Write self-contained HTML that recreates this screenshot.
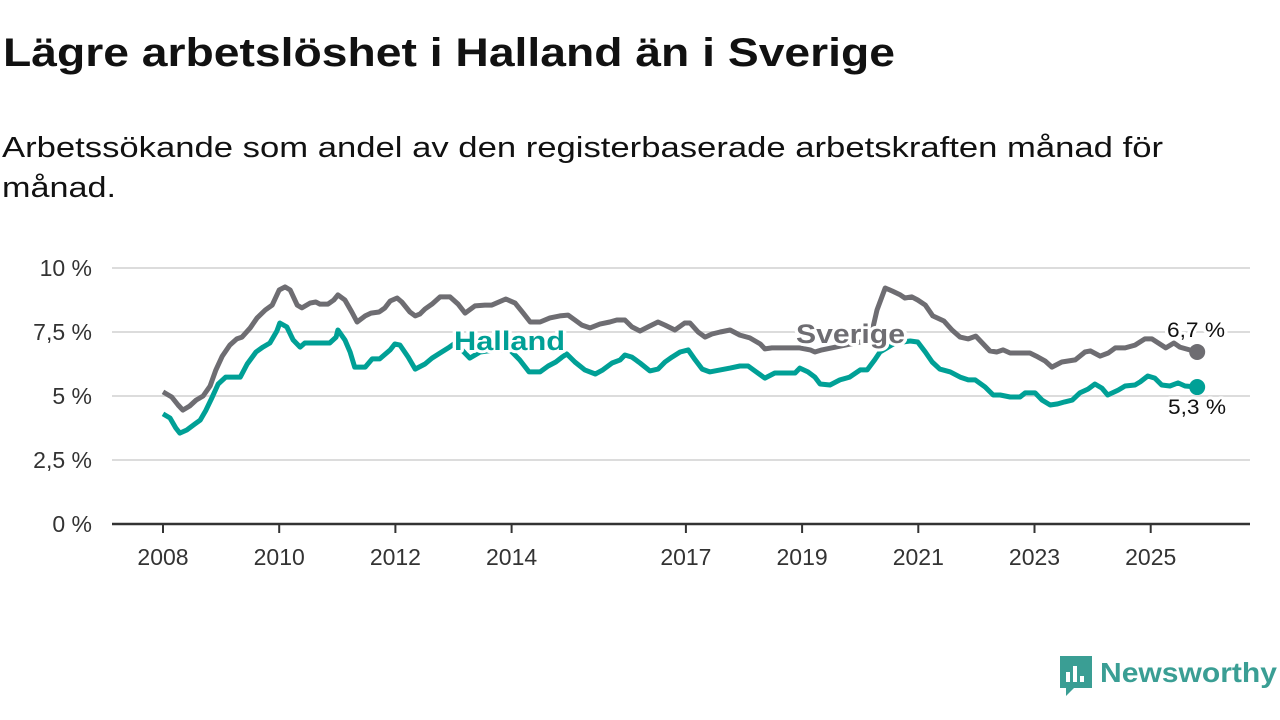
<!DOCTYPE html>
<html><head><meta charset="utf-8"><style>
body{margin:0;background:#fff;width:1280px;height:720px;overflow:hidden;font-family:"Liberation Sans","DejaVu Sans",sans-serif}
</style></head><body>
<svg width="1280" height="720" style="position:absolute;left:0;top:0">
<text x="3" y="66" font-size="40" font-weight="bold" fill="#111" textLength="892" lengthAdjust="spacingAndGlyphs">Lägre arbetslöshet i Halland än i Sverige</text>
<text x="2" y="157" font-size="29" fill="#111" textLength="1161" lengthAdjust="spacingAndGlyphs">Arbetssökande som andel av den registerbaserade arbetskraften månad för</text>
<text x="2" y="197" font-size="29" fill="#111" textLength="114" lengthAdjust="spacingAndGlyphs">månad.</text>
<g id="grid"></g><g id="xaxis"></g><g id="lines"></g><g id="labels"></g>
<g>
<path d="M1060 656 h32 v32 h-18 l-8 8 v-8 h-6 z" fill="#3a9e94"/>
<rect x="1066" y="672" width="4" height="10" fill="#fff"/><rect x="1073" y="666" width="4" height="16" fill="#fff"/><rect x="1080" y="676" width="4" height="6" fill="#fff"/>
<text x="1100" y="682" font-size="28" font-weight="bold" fill="#3a9e94" textLength="177" lengthAdjust="spacingAndGlyphs">Newsworthy</text>
</g>
</svg>
<script>
const yTicks=[0,2.5,5,7.5,10];
const yTickLabels=["0 %","2,5 %","5 %","7,5 %","10 %"];
const xTicks=[2008,2010,2012,2014,2017,2019,2021,2023,2025];
const sverigeT=[0,.15,.26,.34,.46,.57,.69,.81,.91,1.02,1.15,1.27,1.36,1.50,1.62,1.76,1.88,2.0,2.10,2.19,2.31,2.39,2.53,2.63,2.70,2.84,2.94,3.01,3.13,3.25,3.34,3.48,3.58,3.72,3.82,3.91,4.03,4.11,4.25,4.34,4.42,4.51,4.63,4.77,4.94,5.08,5.20,5.37,5.54,5.66,5.90,6.06,6.20,6.32,6.49,6.66,6.83,6.97,7.09,7.21,7.35,7.52,7.69,7.81,7.95,8.07,8.21,8.35,8.52,8.64,8.81,8.98,9.07,9.21,9.33,9.45,9.59,9.76,9.93,10.10,10.28,10.36,10.48,10.79,10.96,11.14,11.22,11.34,12.17,12.29,12.43,12.55,12.69,12.77,12.89,12.99,13.12,13.25,13.44,13.58,13.72,13.86,13.99,14.23,14.35,14.46,14.58,14.92,15.03,15.18,15.30,15.47,15.70,15.87,15.96,16.13,16.27,16.39,16.56,16.73,16.90,17.02,17.13,17.26,17.40,17.50,17.80];
const sverigeV=[5.16,4.96,4.65,4.45,4.61,4.84,5.0,5.39,6.02,6.56,6.99,7.23,7.30,7.66,8.05,8.36,8.55,9.14,9.26,9.14,8.55,8.44,8.63,8.67,8.59,8.59,8.75,8.95,8.75,8.28,7.89,8.13,8.24,8.28,8.44,8.71,8.83,8.67,8.28,8.13,8.2,8.4,8.59,8.87,8.87,8.59,8.24,8.52,8.55,8.55,8.79,8.63,8.24,7.89,7.89,8.05,8.13,8.16,7.97,7.77,7.66,7.81,7.89,7.97,7.97,7.7,7.54,7.7,7.89,7.77,7.58,7.85,7.85,7.5,7.3,7.42,7.5,7.58,7.38,7.27,7.03,6.84,6.88,6.88,6.88,6.8,6.72,6.8,7.19,8.36,9.22,9.1,8.95,8.83,8.87,8.75,8.55,8.13,7.93,7.58,7.3,7.23,7.34,6.76,6.72,6.8,6.68,6.68,6.56,6.37,6.13,6.33,6.41,6.72,6.76,6.56,6.68,6.88,6.88,6.99,7.23,7.23,7.07,6.88,7.07,6.91,6.72];
const hallandT=[0,.12,.22,.29,.41,.55,.64,.74,.84,.95,1.08,1.33,1.45,1.60,1.72,1.84,1.96,2.01,2.13,2.24,2.36,2.44,2.87,2.98,3.01,3.13,3.22,3.30,3.48,3.60,3.73,3.91,3.99,4.08,4.22,4.34,4.51,4.63,4.77,4.91,5.03,5.28,5.46,5.71,5.97,6.14,6.30,6.49,6.63,6.76,6.87,6.95,7.09,7.26,7.44,7.57,7.73,7.87,7.95,8.07,8.21,8.38,8.52,8.64,8.76,8.90,9.04,9.16,9.28,9.41,9.59,9.76,9.93,10.07,10.21,10.36,10.53,10.88,10.96,11.10,11.22,11.31,11.48,11.65,11.82,12.0,12.12,12.25,12.34,12.60,12.86,12.99,13.12,13.24,13.37,13.55,13.72,13.86,13.98,14.15,14.29,14.41,14.58,14.75,14.84,15.01,15.13,15.27,15.40,15.52,15.65,15.78,15.92,16.04,16.16,16.26,16.44,16.56,16.73,16.82,16.95,17.07,17.19,17.33,17.47,17.59,17.80];
const hallandV=[4.30,4.14,3.75,3.55,3.67,3.91,4.06,4.45,4.92,5.47,5.74,5.74,6.25,6.72,6.91,7.07,7.54,7.85,7.7,7.19,6.91,7.07,7.07,7.3,7.58,7.19,6.72,6.13,6.13,6.45,6.45,6.8,7.03,6.99,6.52,6.05,6.25,6.48,6.68,6.88,7.07,6.48,6.72,6.8,6.8,6.41,5.94,5.94,6.17,6.33,6.52,6.64,6.33,6.02,5.86,6.02,6.29,6.41,6.6,6.52,6.29,5.98,6.05,6.33,6.52,6.72,6.8,6.41,6.05,5.94,6.02,6.09,6.17,6.17,5.94,5.70,5.90,5.90,6.09,5.94,5.74,5.47,5.43,5.63,5.74,6.02,6.02,6.41,6.72,7.07,7.15,7.11,6.72,6.33,6.05,5.94,5.74,5.63,5.63,5.35,5.04,5.04,4.96,4.96,5.12,5.12,4.84,4.65,4.69,4.77,4.84,5.12,5.27,5.47,5.31,5.04,5.23,5.39,5.43,5.55,5.78,5.70,5.43,5.39,5.51,5.39,5.35];
const NS="http://www.w3.org/2000/svg";
const X=y=>163+(y-2008)*58.1, Y=v=>524-v*25.6;
function mk(t,a,p){const e=document.createElementNS(NS,t);for(const k in a)e.setAttribute(k,a[k]);p.appendChild(e);return e;}
const g=document.getElementById('grid');
yTicks.forEach((v,i)=>{
 if(v>0){const l=mk('line',{x1:112,x2:1250,y1:Y(v),y2:Y(v),stroke:'#dcdcdc','stroke-width':2},g);
 
 }
 const t=mk('text',{x:92,y:Y(v)+8,'text-anchor':'end','font-size':23,fill:'#333'},g);t.textContent=yTickLabels[i];
 
 
});
const xa=document.getElementById('xaxis');
const ax=mk('line',{x1:112,x2:1250,y1:524,y2:524,stroke:'#333','stroke-width':2.5},xa);


xTicks.forEach(yr=>{
 mk('line',{x1:X(yr),x2:X(yr),y1:524,y2:533,stroke:'#333','stroke-width':2},xa);
 const t=mk('text',{x:X(yr),y:565,'text-anchor':'middle','font-size':23,fill:'#333'},xa);t.textContent=yr;
 
 
});
const lg=document.getElementById('lines');
function line(T,V,c,name){
 const d=T.map((t,i)=>(i?'L':'M')+X(2008+t).toFixed(1)+' '+Y(V[i]).toFixed(1)).join('');
 const p=mk('path',{d:d,fill:'none',stroke:c,'stroke-width':5,'stroke-linejoin':'round'},lg);
 
 
 const n=T.length-1;
 const c2=mk('circle',{cx:X(2008+T[n]),cy:Y(V[n]),r:8,fill:c},lg);
 
 
}
line(sverigeT,sverigeV,'#6e6d72','sverige-line');
line(hallandT,hallandV,'#00a096','halland-line');
const lb=document.getElementById('labels');
function lab(x,y,txt,c,sz,w,len,name){
 const t=mk('text',{x:x,y:y,'font-size':sz,'font-weight':w,fill:c,stroke:'#fff','stroke-width':6,'paint-order':'stroke','stroke-linejoin':'round',textLength:len,lengthAdjust:'spacingAndGlyphs'},lb);t.textContent=txt;
 
 
}
lab(454,350,'Halland','#00a096',27,'bold',111,'halland-label');
lab(796,343,'Sverige','#6e6d72',27,'bold',109,'sverige-label');
lab(1167,337,'6,7 %','#111',21,'normal',58,'sverige-end-value');
lab(1168,414,'5,3 %','#111',21,'normal',58,'halland-end-value');
</script>
</body></html>
